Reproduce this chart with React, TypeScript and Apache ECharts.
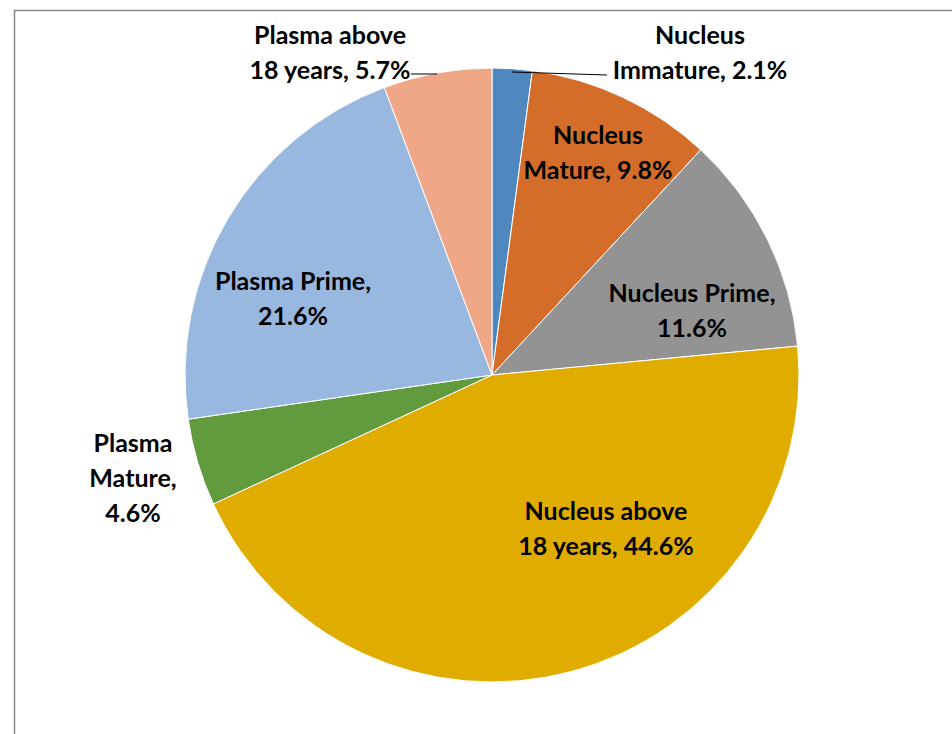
import React, { useEffect, useRef } from "react";
import * as echarts from "echarts";

const names = [
  "Nucleus Immature",
  "Nucleus Mature",
  "Nucleus Prime",
  "Nucleus above 18 years",
  "Plasma Mature",
  "Plasma Prime",
  "Plasma above 18 years",
];
const values = [2.1, 9.8, 11.6, 44.6, 4.6, 21.6, 5.7];
const labelTexts = [
  "Nucleus\nImmature, 2.1%",
  "Nucleus\nMature, 9.8%",
  "Nucleus Prime,\n11.6%",
  "Nucleus above\n18 years, 44.6%",
  "Plasma\nMature,\n4.6%",
  "Plasma Prime,\n21.6%",
  "Plasma above\n18 years, 5.7%",
];
const colors = ["#4F87BF", "#D46D2A", "#939393", "#E1AC00", "#619B3E", "#98B8E0", "#F0A787"];
const labelPos: [number, number][] = [
  [700, 51],
  [598, 151],
  [692, 309],
  [606, 527],
  [133, 477],
  [293, 297],
  [330, 51],
];

export default function App() {
  const ref = useRef<HTMLDivElement>(null);
  useEffect(() => {
    if (!ref.current) return;
    const chart = echarts.init(ref.current, null, { renderer: "svg" });
    chart.setOption({
      animation: false,
      backgroundColor: "#ffffff",
      graphic: [
        {
          type: "rect",
          shape: { x: 14.5, y: 10.5, width: 1200, height: 1000 },
          style: { fill: "none", stroke: "#878787", lineWidth: 1.5 },
          silent: true,
        },
        {
          type: "line",
          shape: { x1: 512, y1: 72, x2: 607, y2: 75 },
          style: { stroke: "#000000", lineWidth: 1 },
          silent: true,
          z: 10,
        },
        {
          type: "line",
          shape: { x1: 411, y1: 74, x2: 437, y2: 74 },
          style: { stroke: "#000000", lineWidth: 1 },
          silent: true,
          z: 10,
        },
      ],
      series: [
        {
          type: "pie",
          center: [492, 375],
          radius: 307,
          startAngle: 90,
          clockwise: true,
          avoidLabelOverlap: false,
          itemStyle: { borderColor: "#ffffff", borderWidth: 1 },
          label: {
            show: true,
            position: "outside",
            fontFamily: "Lato",
            fontWeight: "bold",
            fontSize: 25,
            lineHeight: 35,
            color: "#000000",
            align: "center",
            verticalAlign: "middle",
            formatter: (p: any) => labelTexts[p.dataIndex],
          },
          labelLine: { show: false },
          labelLayout: (p: any) => ({
            x: labelPos[p.dataIndex][0],
            y: labelPos[p.dataIndex][1],
            align: "center",
            verticalAlign: "middle",
          }),
          data: names.map((n, i) => ({
            name: n,
            value: values[i],
            itemStyle: { color: colors[i] },
          })),
        },
      ],
    });
    return () => chart.dispose();
  }, []);
  return (
    <div
      ref={ref}
      style={{ position: "fixed", left: 0, top: 0, width: 952, height: 734 }}
    />
  );
}
